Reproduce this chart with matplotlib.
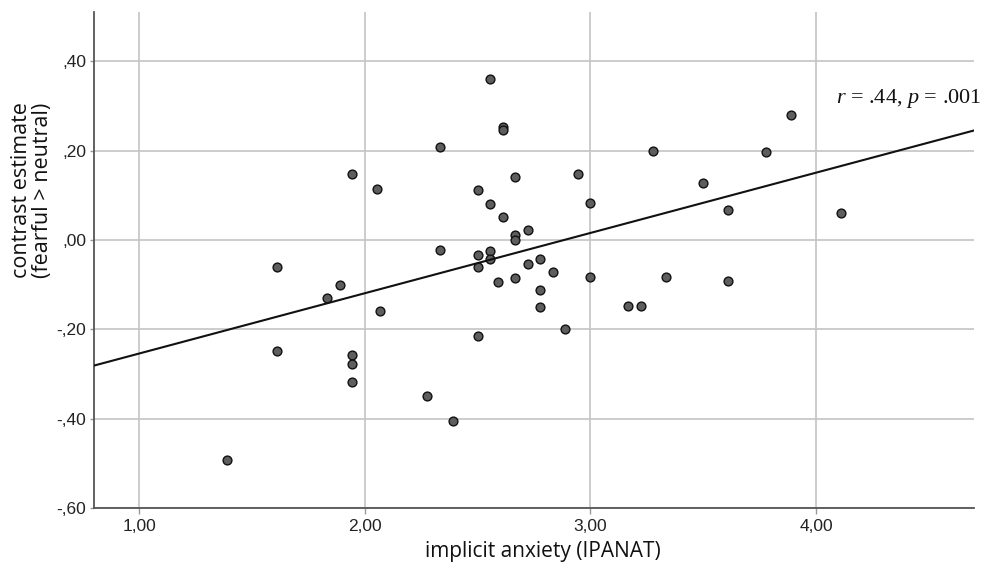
import matplotlib
matplotlib.use("Agg")
import matplotlib.pyplot as plt
import numpy as np
from matplotlib.ticker import FixedLocator, FuncFormatter

# Data
ipanat = [1.944, 2.056, 1.611, 2.556, 2.611, 2.611, 2.333, 3.278, 2.667, 2.944,
          2.500, 2.556, 2.611, 3.000, 2.722, 2.667, 2.667, 2.333, 2.500, 2.556,
          2.556, 2.500, 2.722, 2.778, 2.833, 2.589, 2.667, 3.000, 3.333, 2.778,
          2.778, 3.167, 3.222, 2.889, 2.500, 2.278, 2.389, 1.889, 1.833, 2.066,
          1.611, 1.944, 1.944, 1.944, 1.389, 3.889, 3.778, 3.500, 3.611, 4.111,
          3.611]
contrast = [0.147, 0.113, -0.060, 0.361, 0.252, 0.246, 0.207, 0.198, 0.141, 0.147,
            0.112, 0.081, 0.051, 0.083, 0.022, 0.010, 0.000, -0.023, -0.034, -0.025,
            -0.043, -0.060, -0.054, -0.042, -0.072, -0.095, -0.086, -0.082, -0.083, -0.112,
            -0.150, -0.148, -0.148, -0.199, -0.215, -0.349, -0.406, -0.101, -0.130, -0.160,
            -0.249, -0.258, -0.278, -0.317, -0.492, 0.279, 0.196, 0.128, 0.067, 0.060,
            -0.091]
x_ticks = [1.0, 2.0, 3.0, 4.0]
y_ticks = [-0.6, -0.4, -0.2, 0.0, 0.2, 0.4]
annotation = "$r$ = .44, $p$ = .001"

plt.rcParams['font.family'] = ['Liberation Sans', 'DejaVu Sans']
plt.rcParams['mathtext.fontset'] = 'custom'
plt.rcParams['mathtext.rm'] = 'Liberation Serif'
plt.rcParams['mathtext.it'] = 'Liberation Serif:italic'

fig = plt.figure(figsize=(9.87, 5.67), dpi=100)
ax = fig.add_axes([94/987, 1-508/567, 880/987, 496/567])

x = np.array(ipanat)
y = np.array(contrast)

ax.set_xlim(0.80, 4.70)
ax.set_ylim(-0.60, 0.51)

ax.xaxis.set_major_locator(FixedLocator(x_ticks))
ax.yaxis.set_major_locator(FixedLocator(y_ticks))

def fmt_y(v, pos):
    s = f"{abs(v):.2f}".replace(".", ",").lstrip("0")
    return ("-" if v < -1e-9 else "") + s

def fmt_x(v, pos):
    return f"{v:.2f}".replace(".", ",")

ax.xaxis.set_major_formatter(FuncFormatter(fmt_x))
ax.yaxis.set_major_formatter(FuncFormatter(fmt_y))

ax.grid(True, color="#c4c4c4", linewidth=1.2)
ax.set_axisbelow(True)

for s in ["top", "right"]:
    ax.spines[s].set_visible(False)
for s in ["left", "bottom"]:
    ax.spines[s].set_color("#555555")
    ax.spines[s].set_linewidth(1.3)

ax.tick_params(axis="both", length=4, width=1, color="#999999",
               labelsize=12.5, labelcolor="#222222", pad=4)
ax.tick_params(axis="y", length=3, pad=2.5)

ax.scatter(x, y, s=40, facecolor="#5e5e5e", edgecolor="#111111",
           linewidth=1.0, zorder=3)

slope, intercept = np.polyfit(x, y, 1)
xl = np.array(ax.get_xlim())
ax.plot(xl, intercept + slope * xl, color="#111111", linewidth=1.5, zorder=4)

ax.text(4.088, 0.306, annotation, fontsize=16, family="Liberation Serif",
        ha="left", va="baseline", clip_on=False, color="#111111")

ax.set_xlabel("implicit anxiety (IPANAT)", fontsize=15,
              family=["Open Sans", "DejaVu Sans"], color="#111111")
ax.xaxis.set_label_coords(0.51, -0.066)
ax.set_ylabel("contrast estimate\n(fearful > neutral)", fontsize=15.5,
              family=["Open Sans", "DejaVu Sans"], color="#111111",
              linespacing=1.0)
ax.yaxis.set_label_coords(-0.047, 0.64)

fig.savefig("out.png", dpi=100)
